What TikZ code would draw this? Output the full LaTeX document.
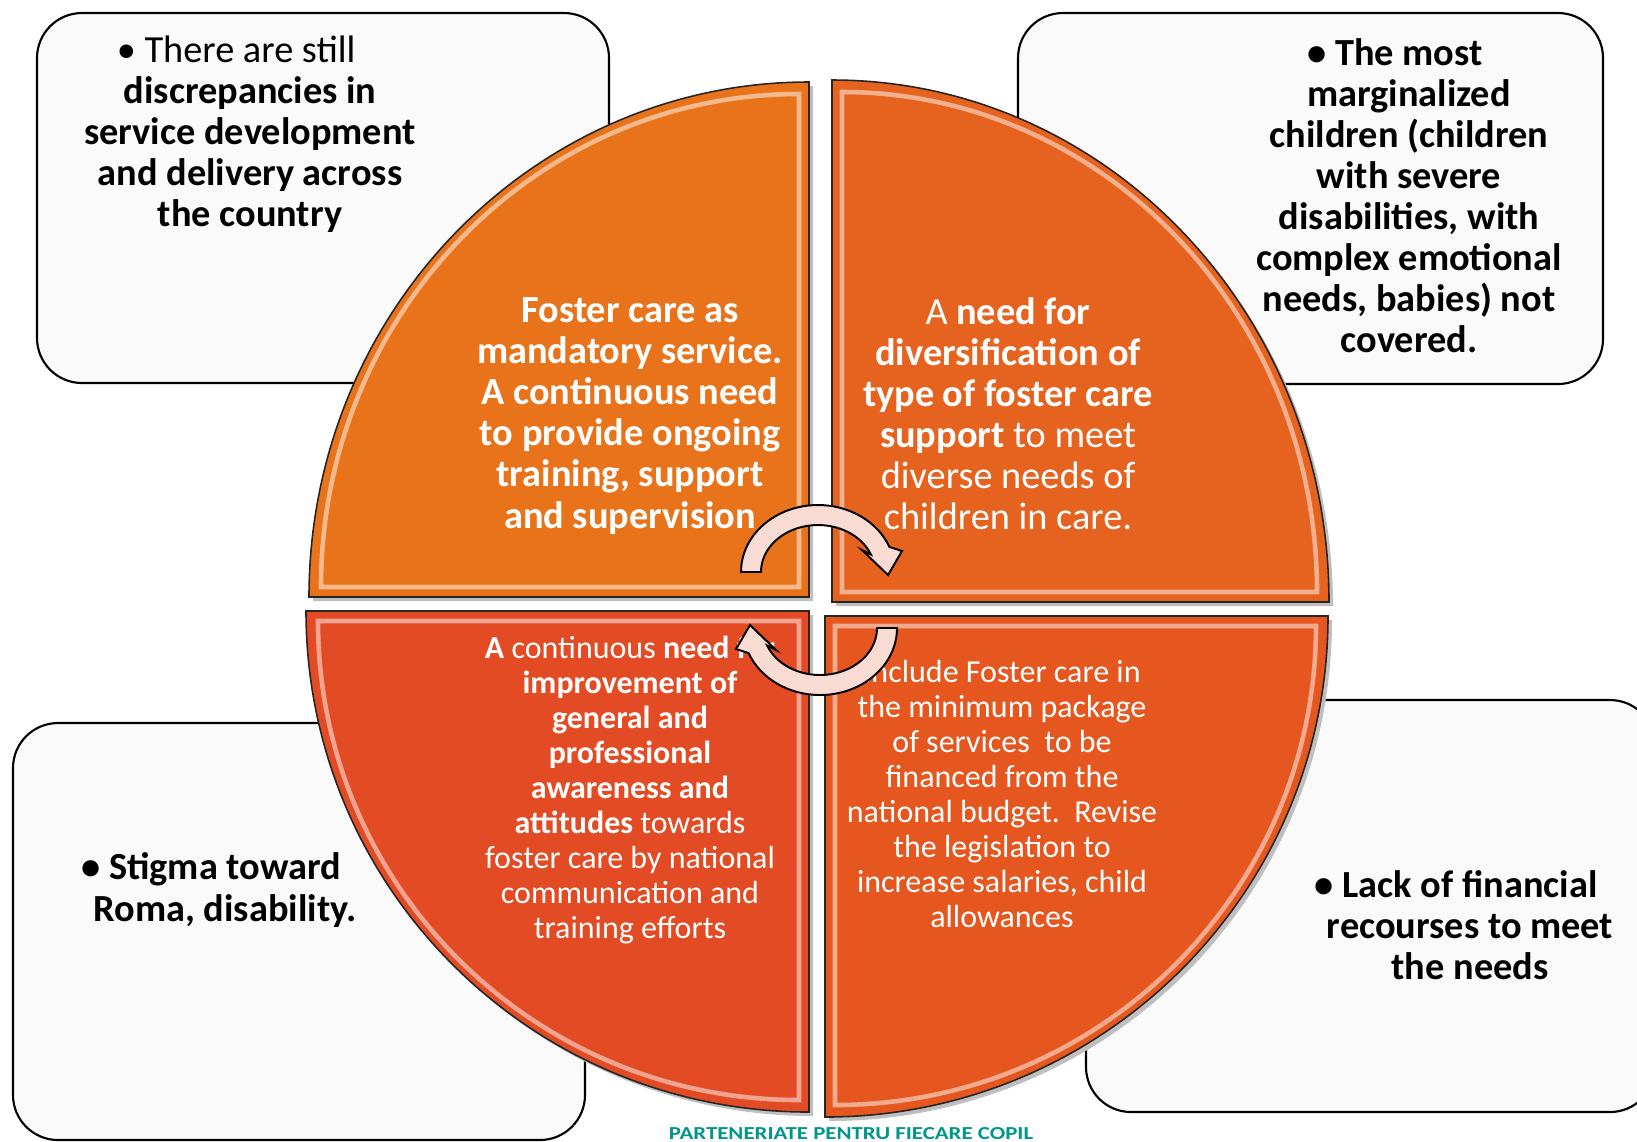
\documentclass[tikz,border=0pt]{standalone}
\usepackage{fontspec}
\usepackage{graphicx}
\setmainfont{Carlito}
\definecolor{tlorange}{HTML}{E9731B}
\definecolor{trorange}{HTML}{E6621F}
\definecolor{blorange}{HTML}{E34B24}
\definecolor{brorange}{HTML}{E5571F}
\definecolor{boxgray}{HTML}{FAFAFA}
\definecolor{arrowpink}{HTML}{F8DCD4}
\definecolor{pftcteal}{HTML}{00968A}

\begin{document}
\begin{tikzpicture}[x=0.01cm,y=-0.01cm,
                    side box/.style={draw=black,line width=0.6pt,fill=boxgray,rounded corners=0.45cm},
                    quad/.style={draw=black!85,line width=0.45pt},
                    bevel/.style={draw=white,line width=1.3pt,opacity=0.5},
                    big text/.style={align=center,inner sep=0pt,font=\fontsize{10.9}{11.67}\selectfont},
                    small text/.style={align=center,inner sep=0pt,text=white,font=\fontsize{9.1}{9.96}\selectfont},
                    cycle arrow/.style={draw=black,line width=0.55pt,fill=arrowpink}]
      \useasboundingbox (0,0) rectangle (1637,1141);
      \clip (0,0) rectangle (1637,1141);
      % corner boxes
      \draw[side box] (37,13) rectangle (609,383);
      \draw[side box] (1018,13) rectangle (1603,384);
      \draw[side box] (13,723) rectangle (585,1140);
      \draw[side box] (1086,700) rectangle (1655,1112);
      % the four quarters
      \fill[black!25] (813,601) -- (313,601) arc[start angle=180,end angle=270,x radius=500,y radius=515] -- cycle;
      \fill[black!25] (836,606) -- (836,84) arc[start angle=270,end angle=360,x radius=497,y radius=522] -- cycle;
      \fill[black!25] (813,615) -- (813,1116) arc[start angle=90,end angle=180,x radius=503,y radius=501] -- cycle;
      \fill[black!25] (829,620) -- (1332,620) arc[start angle=0,end angle=90,x radius=503,y radius=501] -- cycle;
      \path[quad,fill=tlorange] (809,597) -- (309,597) arc[start angle=180,end angle=270,x radius=500,y radius=515] -- cycle;
      \path[quad,fill=trorange] (832,602) -- (832,80) arc[start angle=270,end angle=360,x radius=497,y radius=522] -- cycle;
      \path[quad,fill=blorange] (809,611) -- (809,1112) arc[start angle=90,end angle=180,x radius=503,y radius=501] -- cycle;
      \path[quad,fill=brorange] (825,616) -- (1328,616) arc[start angle=0,end angle=90,x radius=503,y radius=501] -- cycle;
      \draw[bevel] (799,587) -- (321,587) arc[start angle=180,end angle=270,x radius=478,y radius=493] -- cycle;
      \draw[bevel] (842,592) -- (842,92) arc[start angle=270,end angle=360,x radius=475,y radius=500] -- cycle;
      \draw[bevel] (799,621) -- (799,1100) arc[start angle=90,end angle=180,x radius=481,y radius=479] -- cycle;
      \draw[bevel] (835,626) -- (1316,626) arc[start angle=0,end angle=90,x radius=481,y radius=479] -- cycle;
      % box texts
      \node[big text] (still) at (250,134) {\llap{\textbullet\ }There are still\\ \textbf{discrepancies in}\\ \textbf{service development}\\ \textbf{and delivery across}\\ \textbf{the country}};
      \node[big text,font=\bfseries\fontsize{10.9}{11.67}\selectfont] (marginal) at (1409,196) {\llap{\textbullet\ }The most\\ marginalized\\ children (children\\ with severe\\ disabilities, with\\ complex emotional\\ needs, babies) not\\ covered.};
      \node[big text,font=\bfseries\fontsize{10.9}{11.67}\selectfont] (stigma) at (225,890) {\llap{\textbullet\ }Stigma toward\\ Roma, disability.};
      \node[big text,font=\bfseries\fontsize{10.9}{11.67}\selectfont] (money) at (1470,925) {\llap{\textbullet\ }Lack of financial\\ recourses to meet\\ the needs};
      % quarter texts
      \node[big text,text=white,font=\bfseries\fontsize{10.9}{11.67}\selectfont] (mandatory) at (630,416) {Foster care as\\ mandatory service.\\ A continuous need\\ to provide ongoing\\ training, support\\ and supervision};
      \node[big text,text=white] (diverse) at (1008,414) {A \textbf{need for}\\ \textbf{diversification of}\\ \textbf{type of foster care}\\ \textbf{support} to meet\\ diverse needs of\\ children in care.};
      \node[small text] (awareness) at (630,790) {\textbf{A} continuous \textbf{need for}\\ \textbf{improvement of}\\ \textbf{general and}\\ \textbf{professional}\\ \textbf{awareness and}\\ \textbf{attitudes} towards\\ foster care by national\\ communication and\\ training efforts};
      \node[small text] (budget) at (1002,794) {Include Foster care in\\ the minimum package\\ of services\ \ to be\\ financed from the\\ national budget.\ \ Revise\\ the legislation to\\ increase salaries, child\\ allowances};
      \node[anchor=north,inner sep=0pt,text=pftcteal] (partner) at (851,1127) {\resizebox{3.64cm}{0.12cm}{\bfseries PARTENERIATE PENTRU FIECARE COPIL}};
      % cycle arrows
      \begin{scope}[shift={(818,572)}]
        \draw[cycle arrow] (180:77 and 67) arc[start angle=180,end angle=338,x radius=77,y radius=67]
          -- (84,-21) -- (70,3) -- (44,-22) -- (338:57 and 47)
          arc[start angle=338,end angle=180,x radius=57,y radius=47] -- cycle;
      \end{scope}
      \begin{scope}[shift={(820,628)}]
        \draw[cycle arrow] (0:77 and 67) arc[start angle=0,end angle=158,x radius=77,y radius=67]
          -- (-84,21) -- (-70,-3) -- (-44,22) -- (158:57 and 47)
          arc[start angle=158,end angle=0,x radius=57,y radius=47] -- cycle;
      \end{scope}
\end{tikzpicture}
\end{document}
